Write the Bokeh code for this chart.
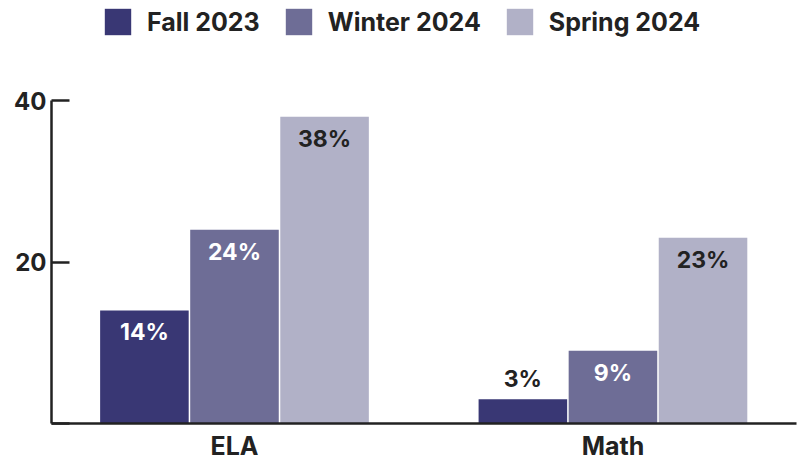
from bokeh.plotting import figure
from bokeh.models import Legend, LegendItem, FixedTicker, ColumnDataSource, Range1d
from bokeh.core.properties import value
from bokeh.embed import file_html
from bokeh.resources import INLINE

subjects = ["ELA", "Math"]
terms = ["Fall 2023", "Winter 2024", "Spring 2024"]
fall_2023 = [14, 3]
winter_2024 = [24, 9]
spring_2024 = [38, 23]
y_ticks = [0, 20, 40]

colors = ["#393774", "#6e6d96", "#b1b1c7"]
label_colors = ["white", "white", "#222222"]
dark = "#222222"
FONT = "Inter"
offsets = [-0.238, 0.0, 0.238]
bar_width = 0.234

positions = [i + 0.5 for i in range(len(subjects))]

p = figure(frame_width=745, frame_height=423,
           x_range=Range1d(0.0165, 1.985),
           y_range=Range1d(0, 52.4),
           output_backend="svg", toolbar_location=None,
           min_border_left=51, min_border_right=4,
           min_border_top=0, min_border_bottom=0)

series = [fall_2023, winter_2024, spring_2024]
renderers = []
for vals, off, col, lc in zip(series, offsets, colors, label_colors):
    inside = [v >= 5 for v in vals]
    src = ColumnDataSource(dict(
        x=[x + off for x in positions],
        val=vals,
        label=[f"{v}%" for v in vals],
        yoff=[22 if i else -20 for i in inside],
        tc=[lc if i else dark for i in inside],
    ))
    r = p.vbar(x="x", top="val", width=bar_width, bottom=0,
               fill_color=col, line_color=None, source=src)
    renderers.append(r)
    p.text(x="x", y="val", text="label",
           y_offset="yoff", text_color="tc", text_align="center",
           text_baseline="middle", text_font=value(FONT), text_font_style="bold",
           text_font_size="23px", source=src)

legend = Legend(items=[LegendItem(label=t, renderers=[r]) for t, r in zip(terms, renderers)],
                orientation="horizontal", location=(50, 385),
                glyph_width=33, glyph_height=33, label_standoff=13, spacing=22,
                label_text_font=FONT, label_text_font_size="25px",
                label_text_font_style="bold", label_text_color=dark,
                border_line_color=None, background_fill_alpha=0,
                padding=0, margin=0)
p.add_layout(legend, "center")

p.xgrid.grid_line_color = None
p.ygrid.grid_line_color = None
p.outline_line_color = None

p.yaxis.ticker = FixedTicker(ticks=y_ticks)
p.yaxis.major_label_overrides = {0: ""}
p.yaxis.bounds = (0, 40)
p.yaxis.major_tick_in = 18
p.yaxis.major_tick_out = 0
p.yaxis.minor_tick_line_color = None
p.yaxis.major_label_standoff = 5

p.xaxis.ticker = FixedTicker(ticks=positions)
p.xaxis.major_label_overrides = {pos: s for pos, s in zip(positions, subjects)}
p.xaxis.minor_tick_line_color = None

for ax in (p.xaxis, p.yaxis):
    ax.axis_line_width = 2.5
    ax.axis_line_color = dark
    ax.major_tick_line_width = 2.5
    ax.major_tick_line_color = dark
    ax.major_label_text_font = FONT
    ax.major_label_text_font_style = "bold"
    ax.major_label_text_color = dark

p.yaxis.major_label_text_font_size = "24px"
p.xaxis.major_label_text_font_size = "25px"
p.xaxis.major_tick_line_color = None
p.xaxis.major_label_standoff = 1

open("out.html", "w").write(file_html(p, INLINE))
